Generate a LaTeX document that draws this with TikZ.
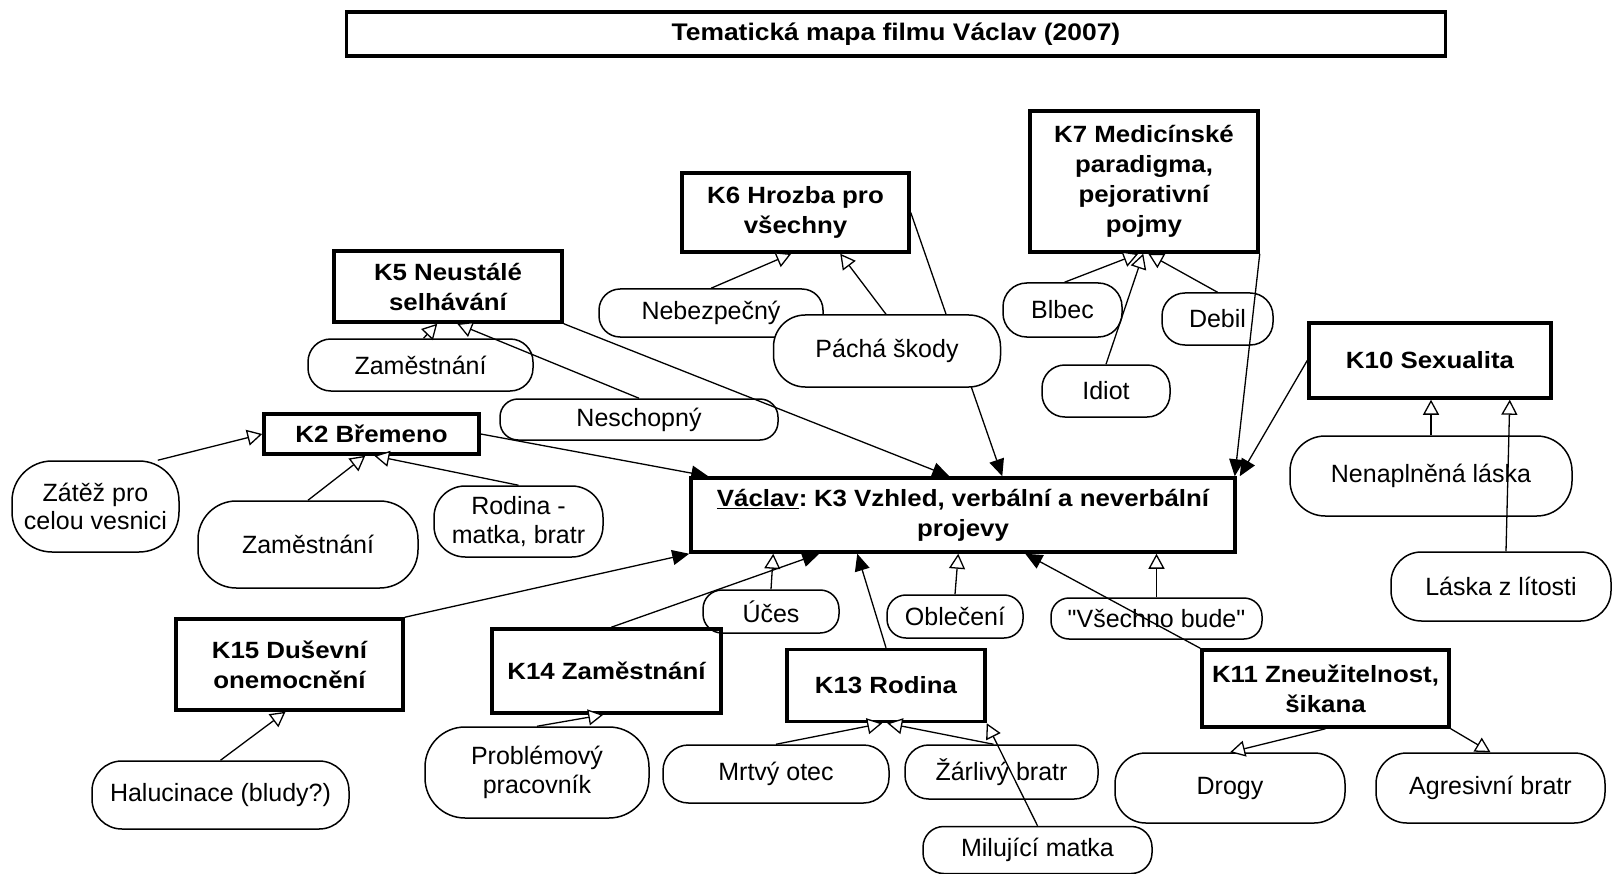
\documentclass[tikz,border=0pt]{standalone}
\usepackage{fontspec}
\setmainfont{Liberation Sans}[Ligatures=TeXOff]
\newfontfamily\bfam{Liberation Sans}[FakeStretch=1.1]
\usetikzlibrary{arrows.meta,backgrounds}
\begin{document}
\begin{tikzpicture}[x=1pt,y=-1pt,
  boxn/.style={draw,line width=3.5pt,align=center,inner sep=0pt,
    font=\bfam\bfseries\fontsize{23.5}{30}\selectfont},
  ell/.style={draw,line width=1.5pt,align=center,inner sep=0pt,
    font=\fontsize{25}{28.5}\selectfont},
  sz/.style 2 args={minimum width=#1pt,minimum height=#2pt},
  esz/.style 2 args={minimum width=#1pt,minimum height=#2pt,rounded corners=#2*0.44pt},
  fa/.style={line width=1.3pt,-{Triangle[length=17pt,width=15pt]}},
  oa/.style={line width=1.3pt,-{Triangle[length=15pt,width=16pt,fill=white]}}]
\useasboundingbox (0,0) rectangle (1613,874);
% boxes
\node[boxn,sz={1099}{44},font=\bfam\bfseries\fontsize{24}{30}\selectfont] (title) at (896,34) {Tematická mapa filmu Václav (2007)};
\node[boxn,sz={227}{79}] (K6) at (795.5,212.5) {K6 Hrozba pro\\všechny};
\node[boxn,sz={228}{141}] (K7) at (1144,181.5) {K7 Medicínské\\paradigma,\\pejorativní\\pojmy};
\node[boxn,sz={228}{71}] (K5) at (448,286.5) {K5 Neustálé\\selhávání};
\node[boxn,sz={215}{40}] (K2) at (371.5,434) {K2 Břemeno};
\node[boxn,sz={544}{74}] (K3) at (963,515) {\underline{Václav}:\kern-3pt{} K3 Vzhled, verbální a neverbální\\projevy};
\node[boxn,sz={242}{75}] (K10) at (1430,360.5) {K10 Sexualita};
\node[boxn,sz={227}{91}] (K15) at (289.5,664.5) {K15 Duševní\\onemocnění};
\node[boxn,sz={229}{84}] (K14) at (606.5,671) {K14 Zaměstnání};
\node[boxn,sz={198}{72}] (K13) at (886,685.5) {K13 Rodina};
\node[boxn,sz={247}{77}] (K11) at (1325.5,688.5) {K11 Zneužitelnost,\\šikana};
% ellipses
\node[ell,esz={224}{48}] (Neb) at (711,313) {Nebezpečný};
\node[ell,esz={227}{72},fill=white] (Pac) at (887,351) {Páchá škody};
\node[ell,esz={119}{54}] (Blb) at (1062.5,310) {Blbec};
\node[ell,esz={111}{52}] (Deb) at (1217.5,319) {Debil};
\node[ell,esz={128}{52}] (Idi) at (1106,391) {Idiot};
\node[ell,esz={225}{52}] (Zam5) at (420.5,365) {Zaměstnání};
\node[ell,esz={278}{41}] (Nes) at (639,419.5) {Neschopný};
\node[ell,esz={167}{91}] (Zat) at (95.5,506.5) {Zátěž pro\\celou vesnici};
\node[ell,esz={220}{87}] (Zam2) at (308,544.5) {Zaměstnání};
\node[ell,esz={169}{71}] (Rod) at (518.5,521.5) {Rodina -\\matka, bratr};
\node[ell,esz={282}{80}] (Nen) at (1431,476) {Nenaplněná láska};
\node[ell,esz={220}{69}] (Las) at (1501,586.5) {Láska z lítosti};
\node[ell,esz={136}{43}] (Uce) at (771,611.5) {Účes};
\node[ell,esz={136}{43}] (Obl) at (955,616.5) {Oblečení};
\node[ell,esz={211}{41}] (Vse) at (1156.5,618.5) {"Všechno bude"};
\node[ell,esz={257}{68}] (Hal) at (220.5,795) {Halucinace (bludy?)};
\node[ell,esz={224}{91}] (Pro) at (537,772.5) {Problémový\\pracovník};
\node[ell,esz={226}{58}] (Mrt) at (776,774) {Mrtvý otec};
\node[ell,esz={193}{54}] (Zar) at (1001.5,772) {Žárlivý bratr};
\node[ell,esz={229}{47}] (Mil) at (1037.5,850) {Milující matka};
\node[ell,esz={230}{70}] (Dro) at (1230,788) {Drogy};
\node[ell,esz={229}{70}] (Agr) at (1490.5,788) {Agresivní bratr};
% filled arrows to K3
\begin{scope}[on background layer]
\draw[fa] (K6.east) -- ([xshift=313]K3.north west);
\end{scope}
\draw[fa] (K2.east) -- ([xshift=19]K3.north west);
\draw[fa] (K5.south east) -- ([xshift=260]K3.north west);
\draw[fa] (K7.south east) -- ([xshift=-2]K3.north east);
\draw[fa] (K10.west) -- ([xshift=3]K3.north east);
\draw[fa] (K15.north east) -- (K3.south west);
\draw[fa] ([xshift=121]K14.north west) -- ([xshift=130]K3.south west);
\draw[fa] (K13.north) -- ([xshift=168]K3.south west);
\draw[fa] (K11.north west) -- ([xshift=336]K3.south west);
% open arrows
\draw[oa] ([xshift=3]Zam5.north) -- ([xshift=105]K5.south west);
\draw[oa] (Nes.north) -- ([xshift=125]K5.south west);
\draw[oa] ([xshift=-22]Zat.north east) -- (K2.west);
\draw[oa] (Zam2.north) -- ([xshift=103]K2.south west);
\draw[oa] (Rod.north) -- ([xshift=112]K2.south west);
\draw[oa] (Neb.north) -- ([xshift=111]K6.south west);
\draw[oa] ([xshift=-1]Pac.north) -- ([xshift=160]K6.south west);
\draw[oa] ([xshift=2]Blb.north) -- ([xshift=110]K7.south west);
\draw[oa] (Idi.north) -- ([xshift=115]K7.south west);
\draw[oa] (Deb.north) -- ([xshift=120]K7.south west);
\draw[oa] (Nen.north) -- (Nen.north |- K10.south);
\draw[oa] ([xshift=5]Las.north) -- ([xshift=-43]K10.south east);
\draw[oa] (Uce.north) -- ([xshift=84]K3.south west);
\draw[oa] (Obl.north) -- ([xshift=269]K3.south west);
\draw[oa] (Vse.north) -- (Vse.north |- K3.south);
\draw[oa] (Hal.north) -- ([xshift=-4]K15.south);
\draw[oa] (Pro.north) -- ([xshift=113]K14.south west);
\draw[oa] (Mrt.north) -- ([xshift=97]K13.south west);
\draw[oa] ([xshift=-8]Zar.north) -- ([xshift=102]K13.south west);
\draw[oa] (Mil.north) -- (K13.south east);
\draw[oa] (K11.south) -- (Dro.north);
\draw[oa] (K11.south east) -- (Agr.north);
\end{tikzpicture}
\end{document}
